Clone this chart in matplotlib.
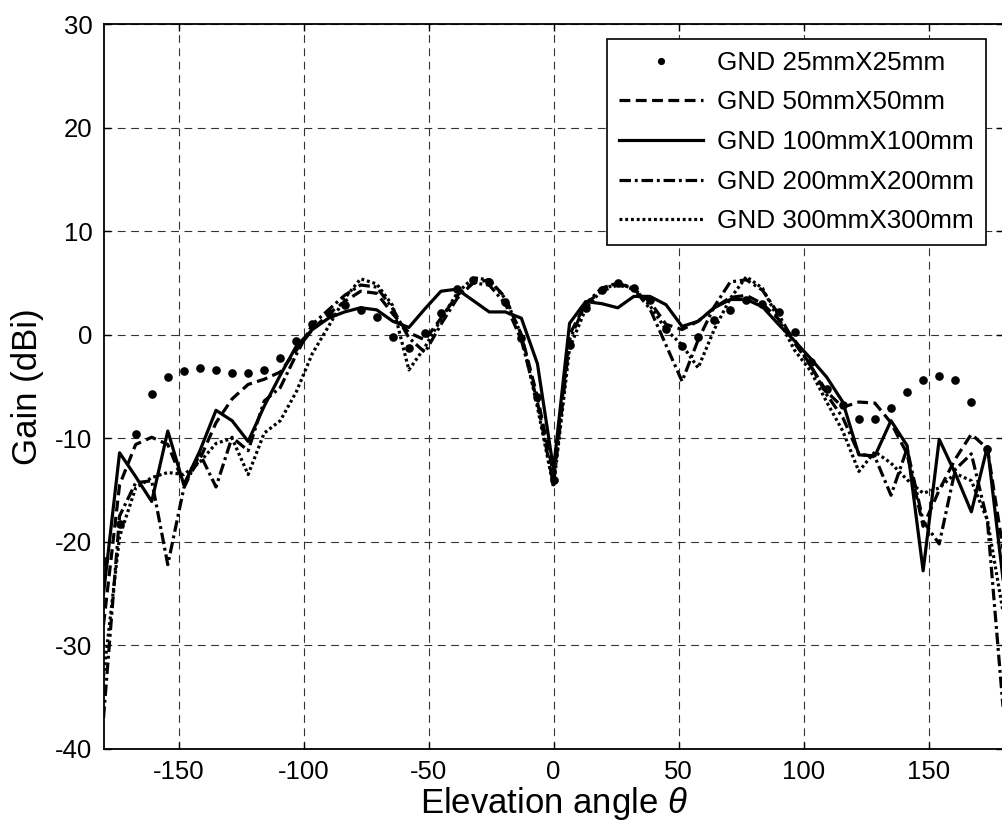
import numpy as np
import matplotlib
matplotlib.use("Agg")
import matplotlib.pyplot as plt

plt.rcParams['font.family'] = ['Liberation Sans', 'DejaVu Sans']
plt.rcParams['mathtext.fontset'] = 'custom'
plt.rcParams['mathtext.rm'] = 'Liberation Sans'
plt.rcParams['mathtext.it'] = 'Liberation Sans:italic'
plt.rcParams['axes.unicode_minus'] = False

# Elevation angle samples (deg)
angles = np.linspace(-180, 180, 57)

# Gain (dBi) for each ground-plane size
gnd_25 = [-21.8, -18.3, -9.6, -5.7, -4.1, -3.5, -3.25, -3.45, -3.7, -3.7,
          -3.45, -2.2, -0.6, 1.05, 2.1, 2.9, 2.4, 1.7, -0.2, -1.3,
          0.2, 2.1, 4.4, 5.3, 5.1, 3.2, -0.3, -6.0, -14.0, -1.0,
          2.6, 4.3, 5.0, 4.5, 3.4, 0.6, -1.1, -0.2, 1.4, 2.4,
          3.4, 3.0, 2.2, 0.3, -2.6, -5.2, -6.8, -8.1, -8.1, -7.1,
          -5.5, -4.4, -4.0, -4.4, -6.5, -11.0, -21.8]

gnd_50 = [-28.0, -14.5, -10.6, -9.9, -10.6, -14.4, -12.0, -8.5, -6.2, -4.8,
          -4.3, -3.6, -1.5, 0.5, 2.0, 3.2, 4.2, 4.0, 2.0, 0.2,
          -0.5, 1.6, 3.8, 5.0, 5.3, 3.6, 0.0, -6.0, -13.5, 0.0,
          3.0, 4.2, 4.8, 4.4, 3.2, 1.0, 0.5, 1.3, 2.6, 3.6,
          3.8, 3.0, 1.5, -0.5, -3.0, -5.5, -7.0, -6.5, -6.6, -8.5,
          -11.5, -18.5, -15.0, -12.0, -9.6, -11.0, -21.0]

gnd_100 = [-25.0, -11.4, -13.7, -16.1, -9.3, -14.5, -11.2, -7.3, -8.3, -10.3,
           -6.9, -3.9, -1.1, 0.5, 1.6, 2.2, 2.6, 2.4, 1.3, 0.7,
           2.5, 4.2, 4.4, 3.3, 2.2, 2.2, 1.6, -2.8, -13.0, 1.1,
           3.2, 3.0, 2.6, 3.7, 3.7, 2.9, 0.8, 1.3, 2.6, 3.4,
           3.4, 2.7, 1.0, -0.6, -2.3, -4.1, -6.5, -11.6, -11.7, -8.3,
           -10.7, -22.8, -10.1, -13.4, -17.1, -10.8, -24.0]

gnd_200 = [-37.0, -17.5, -14.3, -14.1, -22.2, -14.8, -11.5, -14.7, -9.9, -11.2,
           -6.4, -5.1, -1.9, 1.0, 2.4, 3.8, 4.8, 4.6, 2.5, -0.3,
           -1.7, 1.0, 3.5, 5.0, 4.8, 3.0, -0.5, -6.5, -14.5, -0.5,
           3.0, 4.5, 5.0, 4.4, 2.5, -1.0, -4.5, -0.5, 2.7, 5.1,
           5.3, 4.3, 2.0, -0.8, -3.0, -5.8, -8.0, -11.5, -11.8, -15.5,
           -11.0, -18.0, -20.2, -13.0, -11.5, -18.0, -36.5]

gnd_300 = [-33.0, -19.5, -14.8, -13.8, -13.3, -13.5, -12.3, -10.5, -10.0, -13.5,
           -9.5, -8.3, -5.5, -1.8, 0.8, 3.5, 5.4, 4.9, 2.8, -3.4,
           -1.2, 1.5, 4.0, 5.5, 5.3, 3.5, 0.0, -7.0, -14.7, -1.3,
           2.5, 4.3, 5.0, 4.5, 2.8, 0.5, -1.0, -3.2, 0.5, 3.5,
           5.6, 4.5, 1.5, -1.5, -3.5, -6.5, -9.3, -13.2, -11.3, -12.4,
           -14.0, -15.3, -14.8, -13.4, -14.1, -17.9, -27.0]

labels = ["GND 25mmX25mm", "GND 50mmX50mm", "GND 100mmX100mm",
          "GND 200mmX200mm", "GND 300mmX300mm"]

x_ticks = [-150, -100, -50, 0, 50, 100, 150]
y_ticks = [-40, -30, -20, -10, 0, 10, 20, 30]

W, H = 1003, 833
fig = plt.figure(figsize=(W / 100, H / 100), dpi=100)
ax = fig.add_axes([103.5 / W, 1 - 749 / H, 900 / W, (749 - 24) / H])

lw = 2.3
ax.plot(angles, gnd_25, linestyle='none', marker='o', markersize=5.2,
        color='black', label=labels[0])
ax.plot(angles, gnd_50, color='black', lw=lw, linestyle=(0, (3.4, 1.7)),
        label=labels[1])
ax.plot(angles, gnd_100, color='black', lw=lw, linestyle='-', label=labels[2])
ax.plot(angles, gnd_200, color='black', lw=lw,
        linestyle=(0, (3.6, 1.2, 0.9, 1.2)), label=labels[3])
ax.plot(angles, gnd_300, color='black', lw=lw, linestyle=(0, (0.9, 0.9)),
        label=labels[4])

ax.set_xlim(-180, 180)
ax.set_ylim(-40, 30)
ax.set_xticks(x_ticks)
ax.set_yticks(y_ticks)
ax.tick_params(direction='in', length=5, width=1, labelsize=18.5,
               top=True, right=True, pad=8)
ax.grid(True, color='0.2', lw=0.8, linestyle=(0, (7, 5)))
for s in ax.spines.values():
    s.set_linewidth(1.3)

ax.set_xlabel(r'Elevation angle $\theta$', fontsize=25, labelpad=1)
ax.set_ylabel('Gain (dBi)', fontsize=25, labelpad=8)

leg = ax.legend(loc='upper right', bbox_to_anchor=(985.7 / W, 1 - 39 / H),
                bbox_transform=fig.transFigure, borderaxespad=0,
                fontsize=18.8, frameon=True, fancybox=False, framealpha=1,
                edgecolor='black', handlelength=3.2, handletextpad=0.55,
                labelspacing=0.6, borderpad=0.45, markerscale=0.8,
                numpoints=1)
leg.get_frame().set_linewidth(1.2)

fig.savefig('out.png', dpi=100)
